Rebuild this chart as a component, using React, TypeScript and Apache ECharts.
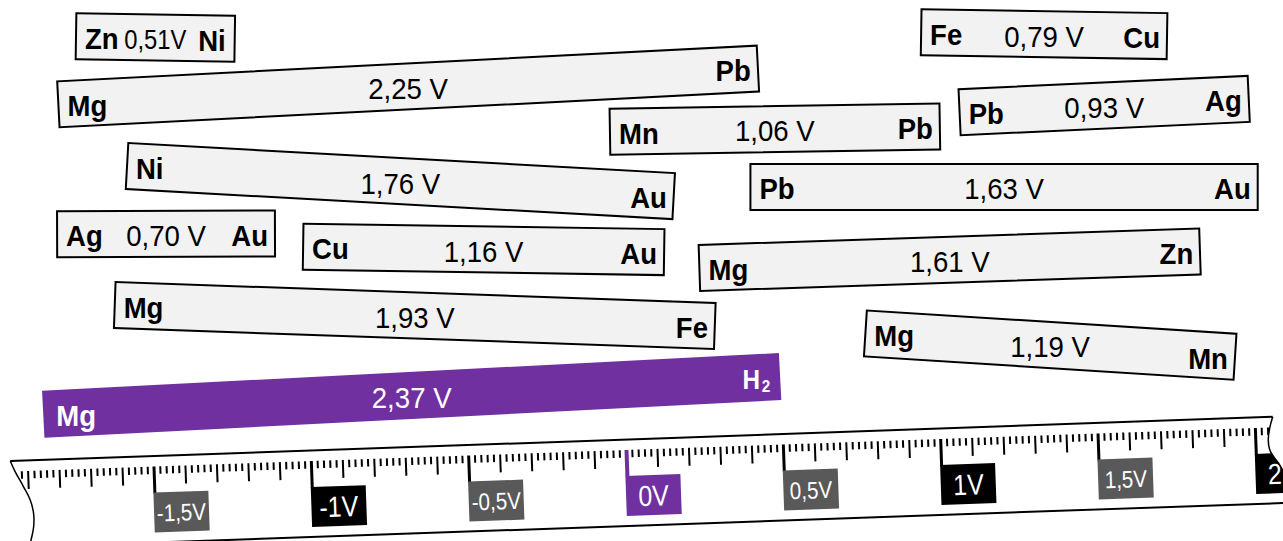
import React, { useEffect, useRef } from "react";
import * as echarts from "echarts";

// ---------- data ----------
const anodes = ["Zn", "Mg", "Mn", "Pb", "Fe", "Ni", "Ag", "Cu", "Mg", "Mg", "Pb", "Mg", "Mg"];
const cathodes = ["Ni", "Pb", "Pb", "Ag", "Cu", "Au", "Au", "Au", "Fe", "H2", "Au", "Zn", "Mn"];
const voltages = [0.51, 2.25, 1.06, 0.93, 0.79, 1.76, 0.7, 1.16, 1.93, 2.37, 1.63, 1.61, 1.19];
const highlighted = [false, false, false, false, false, false, false, false, false, true, false, false, false];
const compactLabel = [true, false, false, false, false, false, false, false, false, false, false, false, false];

// ---------- layout of the cells (left end on the volt axis, mid height, tilt) ----------
const cellStartV = [-1.746, -1.802, -0.051, 1.059, 0.937, -1.584, -1.806, -1.025, -1.623, -1.85, 0.395, 0.233, 0.76];
const cellMidY = [36.3, 104.3, 131.7, 112.2, 32.2, 166, 234.2, 246.7, 305, 414.2, 187, 268, 333.4];
const cellTiltDeg = [0.87, -2.95, -0.92, -2.64, 0.94, 3.18, -0.2, 0.84, 2.03, -2.95, 0, -1.91, 3.61];

// ---------- ruler ----------
const rulerValues = [-1.5, -1, -0.5, 0, 0.5, 1, 1.5, 2];
const rulerLabels = ["-1,5V", "-1V", "-0,5V", "0V", "0,5V", "1V", "1,5V", "2V"];
const rulerLabelColors = ["#595959", "#000000", "#595959", "#7030A0", "#595959", "#000000", "#595959", "#000000"];
const rulerLabelSizes = [24, 29, 24, 29, 24, 29, 24, 29];
const rulerTickFirst = -96; // in 0.02 V steps
const rulerTickLast = 102;
const rulerTickStep = 0.02;

// ---------- style constants ----------
const CW = 1283;
const CH = 541;
const ZERO_PX = 626;
const PX_PER_V = 315;
const X_MIN = -ZERO_PX / PX_PER_V;
const X_MAX = (CW - ZERO_PX) / PX_PER_V;
const RULER_Y = 450;
const RULER_TILT = 2;
const BOX_K = 0.988;
const FONT = "'Liberation Sans', Arial, sans-serif";
const PURPLE = "#7030A0";

function fmt(v: number, compact: boolean) {
  return v.toFixed(2).replace(".", ",") + (compact ? "V" : " V");
}

function txt(x: number, y: number, text: string, opts: any) {
  return {
    type: "text",
    x,
    y,
    scaleX: opts.sx || 1,
    style: {
      text,
      fill: opts.fill || "#000",
      fontSize: opts.size || 28,
      fontWeight: opts.bold ? "bold" : "normal",
      fontFamily: FONT,
      textAlign: opts.align || "center",
      textVerticalAlign: "middle",
      verticalAlign: "middle",
    },
  };
}

function renderCell(params: any, api: any) {
  const i = params.dataIndex;
  const p = api.coord([api.value(0), api.value(1)]);
  const w = api.size([api.value(2), 0])[0] * BOX_K;
  const t = (api.value(3) * Math.PI) / 180;
  const hl = highlighted[i];
  const h = hl ? 47 : 46;
  const c = Math.cos(t);
  const s = Math.sin(t);
  const at = (lx: number, ly: number) => [p[0] + lx * c - ly * s, p[1] + lx * s + ly * c];
  const ink = hl ? "#ffffff" : "#000000";
  const children: any[] = [
    {
      type: "rect",
      x: p[0],
      y: p[1],
      rotation: -t,
      shape: { x: 0, y: -h / 2, width: w, height: h },
      style: hl
        ? { fill: PURPLE, stroke: PURPLE, lineWidth: 0 }
        : { fill: "#F2F2F2", stroke: "#000", lineWidth: 2 },
    },
  ];
  const dy = 2;
  const padL = hl ? 13 : 9;
  const padR = compactLabel[i] ? 9 : 7;
  const l = at(padL, dy);
  children.push(txt(l[0], l[1], anodes[i], { bold: true, fill: ink, align: "left", size: 29, sx: 0.95 }));
  const m = at(w / 2, dy);
  children.push(
    txt(m[0], m[1], fmt(voltages[i], compactLabel[i]), {
      fill: ink,
      align: "center",
      size: compactLabel[i] ? 27 : 30,
      sx: compactLabel[i] ? 0.88 : 0.92,
    })
  );
  const cat = cathodes[i];
  if (cat === "H2") {
    const r2 = at(w - 10, dy + 7);
    children.push(txt(r2[0], r2[1], "2", { bold: true, fill: ink, align: "right", size: 17, sx: 0.9 }));
    const r1 = at(w - 20, dy);
    children.push(txt(r1[0], r1[1], "H", { bold: true, fill: ink, align: "right", size: 27, sx: 0.9 }));
  } else {
    const r = at(w - padR, dy);
    children.push(txt(r[0], r[1], cat, { bold: true, fill: ink, align: "right", size: 29, sx: 0.95 }));
  }
  return { type: "group", children };
}

// decorative outline of the torn ruler ends (local ruler px)
const leftCurve = [
  [-616, -10.5], [-611.4, 0.4], [-603.6, 15.7], [-597.4, 29.2], [-594.5, 42.6], [-594.9, 56], [-598, 69.2], [-600, 76],
];
const rightCurve = [
  [647.8, -10.5], [644.5, 0], [642.5, 12], [643.5, 22], [647.4, 29.6], [652, 36], [655.9, 42.9], [667.4, 58.3],
];

function renderRuler(params: any, api: any) {
  const o = api.coord([0, RULER_Y]);
  const s = api.size([1, 0])[0];
  const children: any[] = [];
  // edges
  children.push({ type: "line", shape: { x1: -616, y1: -10.5, x2: 647.8, y2: -10.5 }, style: { stroke: "#000", lineWidth: 2 } });
  children.push({ type: "line", shape: { x1: -600, y1: 76, x2: 720, y2: 76 }, style: { stroke: "#000", lineWidth: 2 } });
  children.push({ type: "polyline", shape: { points: leftCurve, smooth: 0.4 }, style: { stroke: "#000", lineWidth: 1.5, fill: null } });
  // ticks
  for (let k = rulerTickFirst; k <= rulerTickLast; k++) {
    const u = k * rulerTickStep * s;
    if (k % 25 === 0) {
      const zero = k === 0;
      children.push({
        type: "rect",
        shape: { x: u - 1.5, y: 0, width: zero ? 4 : 3, height: 27 },
        style: { fill: zero ? PURPLE : "#000" },
      });
    } else if (k % 5 === 0) {
      children.push({ type: "rect", shape: { x: u - 1, y: 0, width: 2, height: 18 }, style: { fill: "#000" } });
    } else {
      children.push({ type: "rect", shape: { x: u - 1, y: 0, width: 2, height: 7.5 }, style: { fill: "#000" } });
    }
  }
  // labels
  rulerValues.forEach((v, j) => {
    const u = v * s;
    children.push({
      type: "rect",
      shape: { x: u - 1.5, y: 26, width: 55, height: 40 },
      style: { fill: rulerLabelColors[j] },
    });
    children.push(txt(u - 1.5 + 27.5, 47, rulerLabels[j], { fill: "#fff", size: rulerLabelSizes[j], sx: 0.86 }));
  });
  // torn right end
  const mask = rightCurve.concat([[760, 58.3], [760, -30], [647.8, -30]]);
  children.push({ type: "polygon", shape: { points: mask }, style: { fill: "#fff" } });
  children.push({ type: "polyline", shape: { points: rightCurve, smooth: 0.4 }, style: { stroke: "#000", lineWidth: 1.5, fill: null } });
  return {
    type: "group",
    x: o[0],
    y: o[1],
    rotation: (RULER_TILT * Math.PI) / 180,
    children,
  };
}

export default function App() {
  const ref = useRef<HTMLDivElement>(null);
  useEffect(() => {
    if (!ref.current) return;
    const chart = echarts.init(ref.current, undefined, { renderer: "svg" });
    const cellData = voltages.map((v, i) => [cellStartV[i], cellMidY[i], v, cellTiltDeg[i]]);
    chart.setOption({
      animation: false,
      backgroundColor: "#ffffff",
      grid: { left: 0, right: 0, top: 0, bottom: 0 },
      xAxis: { type: "value", min: X_MIN, max: X_MAX, show: false },
      yAxis: { type: "value", min: 0, max: CH, inverse: true, show: false },
      series: [
        {
          type: "custom",
          name: "ruler",
          z: 1,
          silent: true,
          renderItem: renderRuler,
          data: [[0, RULER_Y]],
        },
        {
          type: "custom",
          name: "cells",
          z: 2,
          silent: true,
          renderItem: renderCell,
          data: cellData,
        },
      ],
    });
    return () => chart.dispose();
  }, []);
  return <div ref={ref} style={{ position: "absolute", left: 0, top: 0, width: CW, height: CH }} />;
}
